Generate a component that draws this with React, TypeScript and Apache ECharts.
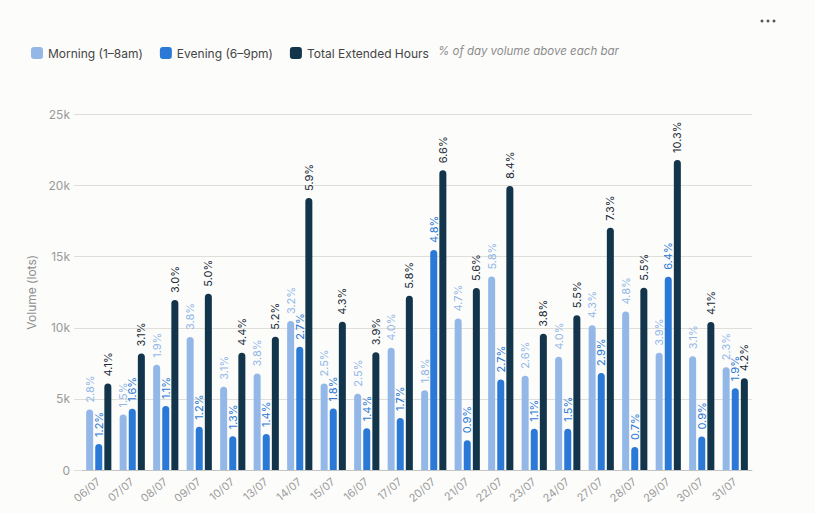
import React, { useEffect, useRef } from "react";
import * as echarts from "echarts";

const categories = ["06/07", "07/07", "08/07", "09/07", "10/07", "13/07", "14/07", "15/07", "16/07", "17/07", "20/07", "21/07", "22/07", "23/07", "24/07", "27/07", "28/07", "29/07", "30/07", "31/07"];

const morningVolume = [4250, 3900, 7400, 9350, 5850, 6780, 10470, 6080, 5370, 8590, 5600, 10650, 13600, 6620, 7960, 10180, 11150, 8240, 8000, 7230];
const eveningVolume = [1830, 4300, 4500, 3050, 2370, 2530, 8660, 4320, 2930, 3660, 15470, 2090, 6360, 2900, 2900, 6830, 1620, 13590, 2350, 5750];
const totalVolume = [6080, 8200, 11950, 12400, 8250, 9370, 19130, 10420, 8280, 12250, 21080, 12800, 19970, 9580, 10890, 17040, 12820, 21800, 10400, 6450];

const morningPct = ["2.8%", "1.5%", "1.9%", "3.8%", "3.1%", "3.8%", "3.2%", "2.5%", "2.5%", "4.0%", "1.8%", "4.7%", "5.8%", "2.6%", "4.0%", "4.3%", "4.8%", "3.9%", "3.1%", "2.3%"];
const eveningPct = ["1.2%", "1.6%", "1.1%", "1.2%", "1.3%", "1.4%", "2.7%", "1.8%", "1.4%", "1.7%", "4.8%", "0.9%", "2.7%", "1.1%", "1.5%", "2.9%", "0.7%", "6.4%", "0.9%", "1.9%"];
const totalPct = ["4.1%", "3.1%", "3.0%", "5.0%", "4.4%", "5.2%", "5.9%", "4.3%", "3.9%", "5.8%", "6.6%", "5.6%", "8.4%", "3.8%", "5.5%", "7.3%", "5.5%", "10.3%", "4.1%", "4.2%"];

const yTicks = [0, 5000, 10000, 15000, 20000, 25000];

const FONT = "Inter, 'Noto Sans', sans-serif";
const COLORS = { morning: "#93b8e8", evening: "#2b79d6", total: "#12354c" };

function makeSeries(name: string, data: number[], pct: string[], color: string, labelColor: string) {
  return {
    name,
    type: "bar",
    data,
    barWidth: 7,
    barGap: "30%",
    itemStyle: { color, borderRadius: [3.5, 3.5, 0, 0] },
    label: {
      show: true,
      position: "top",
      rotate: 90,
      align: "left",
      verticalAlign: "middle",
      distance: 7,
      fontSize: 11,
      fontFamily: FONT,
      color: labelColor,
      formatter: (p: any) => pct[p.dataIndex],
    },
  };
}

export default function App() {
  const ref = useRef<HTMLDivElement>(null);
  useEffect(() => {
    document.body.style.margin = "0";
    document.body.style.background = "#fcfcfb";
    const chart = echarts.init(ref.current!, null, { renderer: "svg" });
    chart.setOption({
      animation: false,
      backgroundColor: "#fcfcfb",
      textStyle: { fontFamily: FONT },
      legend: {
        left: 26,
        top: 42,
        itemWidth: 12,
        itemHeight: 12,
        itemGap: 17,
        icon: "roundRect",
        textStyle: { fontSize: 12, color: "#444", fontFamily: FONT },
        data: ["Morning (1–8am)", "Evening (6–9pm)", "Total Extended Hours"],
      },
      graphic: [
        {
          type: "text",
          left: 438,
          top: 45,
          style: {
            text: "% of day volume above each bar",
            fontSize: 11.5,
            fontStyle: "italic",
            fill: "#8c8c8c",
            fontFamily: FONT,
          },
        },
        { type: "circle", shape: { cx: 762, cy: 21, r: 1.5 }, style: { fill: "#555" } },
        { type: "circle", shape: { cx: 768, cy: 21, r: 1.5 }, style: { fill: "#555" } },
        { type: "circle", shape: { cx: 774, cy: 21, r: 1.5 }, style: { fill: "#555" } },
      ],
      grid: { left: 82, right: 63, top: 114.5, bottom: 43, containLabel: false },
      xAxis: {
        type: "category",
        data: categories,
        axisLine: { lineStyle: { color: "#c4c4c4", width: 1 } },
        axisTick: { show: false },
        axisLabel: { rotate: 40, fontSize: 11, color: "#9a9a9a", margin: 10, fontFamily: FONT, interval: 0 },
      },
      yAxis: {
        type: "value",
        min: yTicks[0],
        max: yTicks[yTicks.length - 1],
        interval: yTicks[1] - yTicks[0],
        name: "Volume (lots)",
        nameLocation: "middle",
        nameGap: 44,
        nameTextStyle: { fontSize: 12, color: "#8f8f8f", fontFamily: FONT },
        axisLine: { show: false },
        axisTick: { show: true, length: 8, lineStyle: { color: "#e0ded8" } },
        splitLine: { lineStyle: { color: "#e0ded8", width: 1 } },
        axisLabel: {
          fontSize: 12,
          color: "#9a9a9a",
          margin: 12,
          fontFamily: FONT,
          formatter: (v: number) => (v === 0 ? "0" : v / 1000 + "k"),
        },
      },
      series: [
        makeSeries("Morning (1–8am)", morningVolume, morningPct, COLORS.morning, "#93b8e8"),
        makeSeries("Evening (6–9pm)", eveningVolume, eveningPct, COLORS.evening, "#2b79d6"),
        makeSeries("Total Extended Hours", totalVolume, totalPct, COLORS.total, "#1a2a36"),
      ],
    });
    return () => chart.dispose();
  }, []);
  return <div ref={ref} style={{ width: 815, height: 513 }} />;
}
